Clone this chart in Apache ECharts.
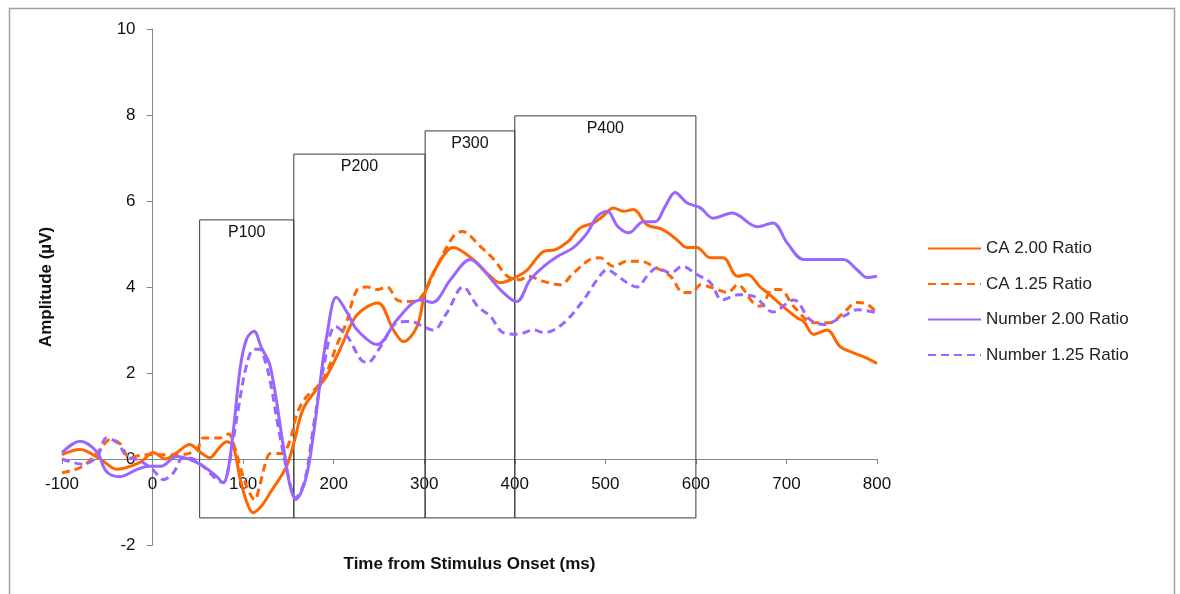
<!DOCTYPE html>
<html>
<head>
<meta charset="utf-8">
<script src="https://cdn.jsdelivr.net/npm/echarts@6/dist/echarts.min.js"></script>
<style>
html,body{margin:0;padding:0;background:#fff;}
#chart{width:1180px;height:594px;}
</style>
</head>
<body>
<div id="chart"></div>
<script>
// ---- data (time in ms, amplitude in µV) ----
const seriesNames = ['CA 2.00 Ratio', 'CA 1.25 Ratio', 'Number 2.00 Ratio', 'Number 1.25 Ratio'];

const caHigh = [[-100,0.1],[-80,0.22],[-58,0],[-39,-0.24],[-14,-0.08],[1,0.15],[14,0],[27,0.15],[41,0.34],[52,0.17],[63,0.03],[74,0.27],[82,0.4],[89,0.3],[97,-0.48],[104,-1.0],[111,-1.25],[120,-1.1],[130,-0.78],[148,-0.17],[157,0.45],[166,1.15],[181,1.62],[192,1.92],[207,2.55],[222,3.24],[234,3.5],[249,3.63],[266,3.0],[277,2.73],[292,3.08],[301,3.87],[314,4.48],[332,4.92],[354,4.64],[373,4.25],[384,4.1],[403,4.25],[414,4.4],[432,4.83],[445,4.87],[459,5.06],[472,5.37],[487,5.49],[497,5.64],[509,5.84],[520,5.76],[531,5.8],[546,5.45],[564,5.33],[579,5.1],[590,4.92],[601,4.92],[616,4.68],[630,4.68],[646,4.25],[657,4.29],[671,4.0],[679,3.87],[696,3.55],[712,3.28],[719,3.2],[730,2.9],[745,3.0],[759,2.62],[774,2.47],[788,2.35],[800,2.22]];

const caLow = [[-100,-0.32],[-77,-0.17],[-58,0.22],[-47,0.45],[-36,0.36],[-25,0.03],[-10,0.1],[4,0.1],[18,0.1],[32,0.1],[49,0.22],[56,0.49],[74,0.49],[84,0.58],[91,0.25],[97,-0.2],[104,-0.64],[113,-0.95],[118,-0.64],[126,0],[130,0.13],[143,0.13],[152,0.45],[160,1.08],[170,1.45],[181,1.66],[192,2.0],[203,2.62],[214,3.17],[226,3.94],[237,4.0],[248,3.94],[259,4.0],[270,3.7],[281,3.66],[296,3.75],[314,4.48],[332,5.17],[342,5.29],[362,4.94],[377,4.64],[392,4.25],[406,4.17],[414,4.25],[432,4.13],[450,4.05],[465,4.33],[483,4.64],[494,4.68],[509,4.48],[524,4.6],[539,4.6],[553,4.48],[572,4.25],[586,3.87],[596,3.87],[605,4.05],[624,3.94],[635,3.87],[646,4.05],[663,3.64],[671,3.55],[685,3.94],[693,3.94],[708,3.55],[730,3.17],[748,3.17],[763,3.4],[778,3.64],[789,3.6],[800,3.4]];

const numHigh = [[-100,0.15],[-80,0.41],[-61,0.15],[-51,-0.29],[-36,-0.41],[-17,-0.24],[-3,-0.17],[9,-0.17],[27,0.06],[41,-0.01],[56,-0.17],[71,-0.41],[78,-0.55],[83,-0.3],[89,0.62],[97,2.15],[104,2.8],[112,2.97],[120,2.6],[130,2.15],[145,0.22],[152,-0.64],[158,-0.94],[169,-0.48],[178,0.62],[185,1.78],[193,2.94],[203,3.76],[215,3.4],[226,3.0],[248,2.66],[270,3.24],[296,3.7],[309,3.64],[329,4.17],[351,4.64],[365,4.4],[384,3.94],[402,3.66],[417,4.17],[432,4.48],[447,4.71],[465,4.92],[480,5.26],[491,5.64],[502,5.76],[514,5.4],[526,5.26],[542,5.52],[555,5.52],[566,5.87],[577,6.2],[590,5.96],[605,5.84],[619,5.6],[640,5.72],[668,5.4],[685,5.49],[701,5.02],[719,4.64],[737,4.64],[763,4.64],[778,4.4],[789,4.22],[800,4.25]];

const numLow = [[-100,0],[-77,-0.12],[-61,0.06],[-51,0.49],[-39,0.38],[-28,0.06],[-14,-0.04],[0,-0.24],[12,-0.48],[23,-0.32],[34,0.03],[45,0],[56,-0.17],[71,-0.48],[78,-0.55],[84,-0.2],[94,1.08],[104,2.2],[112,2.55],[118,2.55],[124,2.3],[130,1.8],[140,0.6],[150,-0.4],[158,-0.9],[168,-0.5],[178,0.8],[189,2.15],[202,3.08],[215,2.85],[230,2.31],[237,2.24],[252,2.62],[270,3.17],[285,3.2],[299,3.08],[310,3.0],[325,3.4],[343,4.0],[359,3.55],[373,3.32],[387,2.94],[403,2.9],[421,3.0],[432,2.94],[443,3.0],[458,3.24],[476,3.7],[491,4.17],[502,4.4],[514,4.25],[524,4.1],[535,4.0],[546,4.25],[557,4.44],[572,4.33],[585,4.48],[601,4.29],[616,4.1],[629,3.7],[647,3.82],[664,3.78],[685,3.42],[708,3.7],[726,3.24],[741,3.13],[763,3.32],[778,3.47],[800,3.4]];

// ERP component windows
const windowLabels = ['P100', 'P200', 'P300', 'P400'];
const windowStart = [52, 156, 301, 400];
const windowEnd = [156, 301, 400, 600];
const windowTop = [5.56, 7.09, 7.63, 7.98];
const windowBottom = -1.37;

const xTicks = [-100, 0, 100, 200, 300, 400, 500, 600, 700, 800];
const yTicks = [-2, 0, 2, 4, 6, 8, 10];

// ---- chart ----
const ORANGE = '#FF6600';
const PURPLE = '#9966FF';
const FONT = '"Liberation Sans", Arial, sans-serif';

const GRID = {left: 62, right: 303, top: 29, bottom: 49};
const W = 1180, H = 594;
const plotW = W - GRID.left - GRID.right;
const plotH = H - GRID.top - GRID.bottom;
const xMin = -100, xMax = 800, yMin = -2, yMax = 10;
// offsets that place each axis on the other axis' zero
const yAxisOffset = -plotW * (0 - xMin) / (xMax - xMin);
const xAxisOffset = -plotH * (0 - yMin) / (yMax - yMin);

const chart = echarts.init(document.getElementById('chart'), null, {renderer: 'canvas'});

const boxes = windowLabels.map((lab, i) => ([
  {name: lab, coord: [windowStart[i], windowTop[i]]},
  {coord: [windowEnd[i], windowBottom]}
]));

function lineSeries(name, data, color, dashed, extra) {
  return Object.assign({
    name: name,
    type: 'line',
    data: data,
    smooth: 0.35,
    symbol: 'none',
    showSymbol: false,
    lineStyle: {color: color, width: 3, type: dashed ? [8, 5] : 'solid'},
    itemStyle: {color: color},
    z: 3
  }, extra || {});
}

chart.setOption({
  animation: false,
  backgroundColor: '#fff',
  graphic: [{
    type: 'rect', left: 7, top: 6, z: -10,
    shape: {width: 1165, height: 600},
    style: {fill: 'none', stroke: '#a0a0a0', lineWidth: 1.5}
  }],
  grid: Object.assign({containLabel: false, outerBoundsMode: 'none'}, GRID),
  legend: {
    orient: 'vertical',
    left: 927, top: 240, padding: 0,
    itemWidth: 53, itemHeight: 14, itemGap: 18.5,
    itemStyle: {opacity: 0},
    textStyle: {fontFamily: FONT, fontSize: 17, color: '#222', padding: [0, 0, 0, 0]},
    data: seriesNames
  },
  xAxis: {
    type: 'value', min: xMin, max: xMax, interval: 100,
    position: 'bottom', offset: xAxisOffset,
    name: 'Time from Stimulus Onset (ms)',
    nameLocation: 'middle', nameGap: 97, nameMoveOverlap: false,
    nameTextStyle: {fontFamily: FONT, fontSize: 17, fontWeight: 'bold', color: '#111'},
    axisLine: {onZero: false, lineStyle: {color: '#868686', width: 1}},
    axisTick: {show: true, length: 5, inside: false, lineStyle: {color: '#868686'}},
    axisLabel: {fontFamily: FONT, fontSize: 17, color: '#111', margin: 17,
      formatter: v => xTicks.includes(v) ? String(v) : ''},
    splitLine: {show: false}
  },
  yAxis: {
    type: 'value', min: yMin, max: yMax, interval: 2,
    position: 'left', offset: yAxisOffset,
    name: 'Amplitude (µV)',
    nameLocation: 'middle', nameGap: 98, nameRotate: 90, nameMoveOverlap: false,
    nameTextStyle: {fontFamily: FONT, fontSize: 17, fontWeight: 'bold', color: '#111'},
    axisLine: {show: true, onZero: false, lineStyle: {color: '#868686', width: 1}},
    axisTick: {show: true, length: 6, inside: false, lineStyle: {color: '#868686'}},
    axisLabel: {fontFamily: FONT, fontSize: 17, color: '#111', margin: 17,
      formatter: v => yTicks.includes(v) ? String(v) : ''},
    splitLine: {show: false}
  },
  series: [
    lineSeries(seriesNames[0], caHigh, ORANGE, false, {
      markArea: {
        silent: true,
        z: 1,
        itemStyle: {color: 'rgba(0,0,0,0)', borderColor: '#3a3a3a', borderWidth: 1},
        label: {show: true, position: 'insideTop', distance: 5, fontFamily: FONT, fontSize: 16, color: '#111'},
        data: boxes
      }
    }),
    lineSeries(seriesNames[1], caLow, ORANGE, true),
    lineSeries(seriesNames[2], numHigh, PURPLE, false),
    lineSeries(seriesNames[3], numLow, PURPLE, true)
  ]
});
</script>
</body>
</html>
